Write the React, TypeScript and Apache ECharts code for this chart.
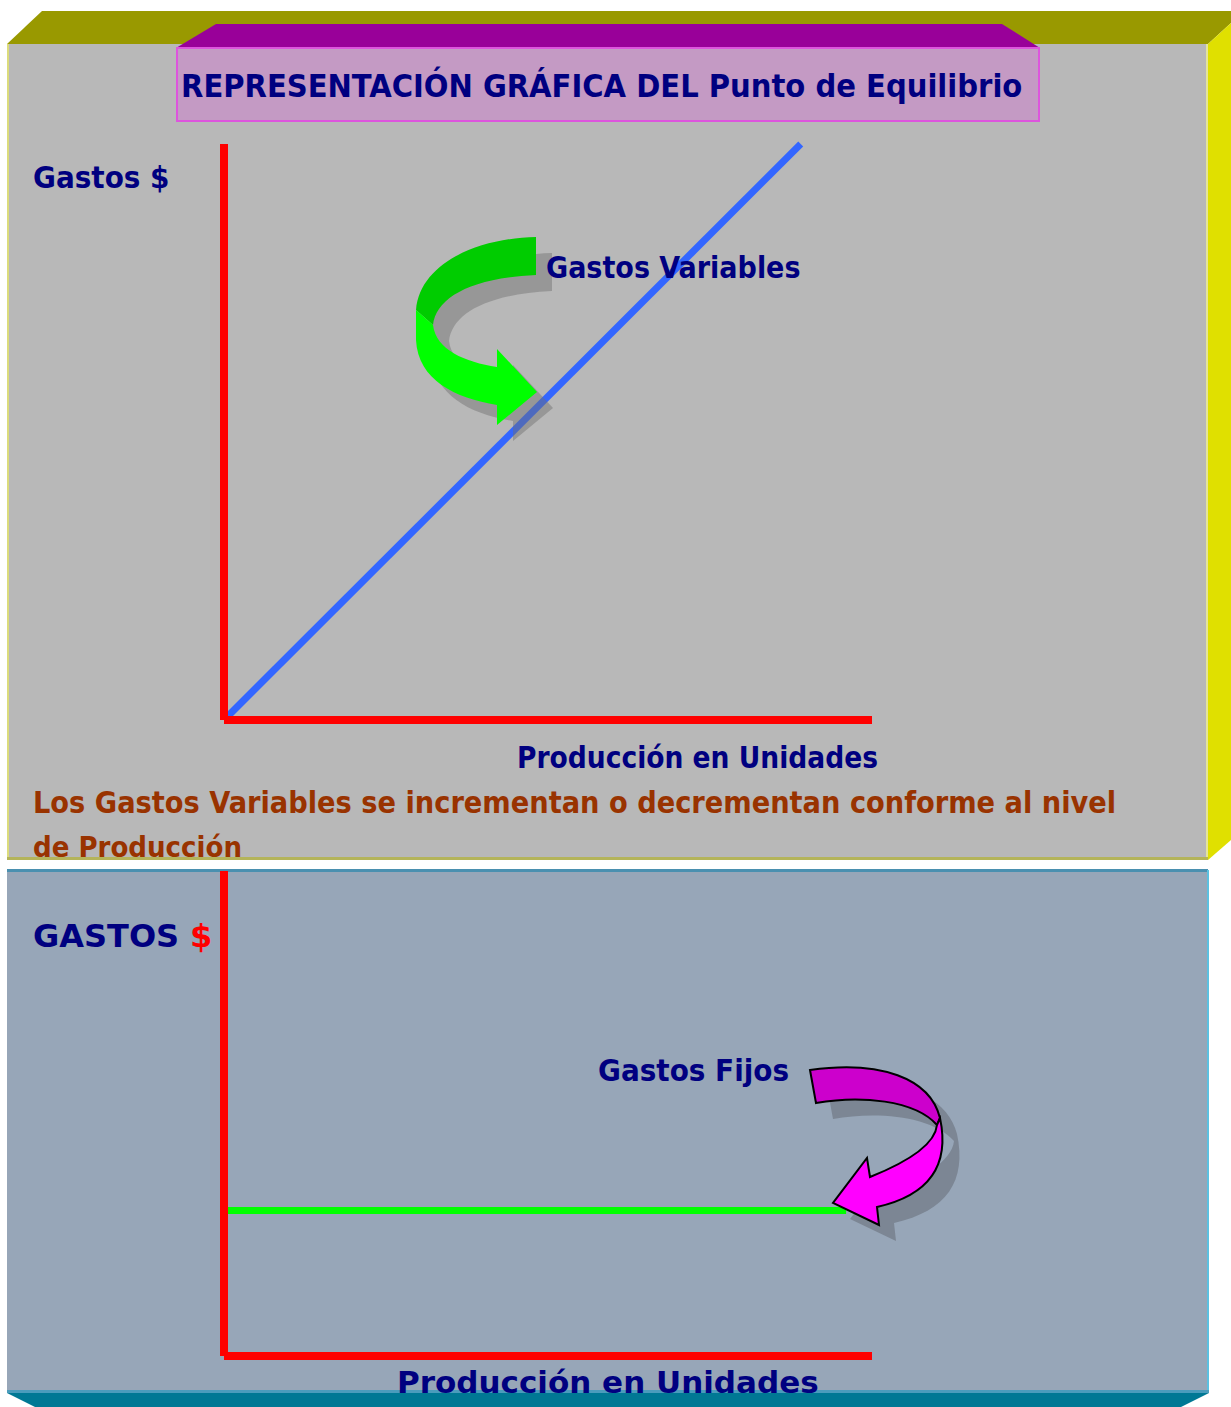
import React, { useEffect, useRef } from "react";
import * as echarts from "echarts";

// ---- Data ----
const prodVariable = [0, 89];
const gastosVariable = [0, 100];
const prodFijo = [0, 96];
const gastosFijo = [30, 30];

// ---- Texts ----
const titleText = "REPRESENTACIÓN GRÁFICA DEL Punto de Equilibrio";
const yName1 = "Gastos $";
const xName1 = "Producción en Unidades";
const seriesName1 = "Gastos Variables";
const note1 = "Los Gastos Variables se incrementan o decrementan conforme al nivel";
const note2 = "de Producción";
const yName2 = "GASTOS";
const yName2Sym = "$";
const seriesName2 = "Gastos Fijos";
const xName2 = "Producción en Unidades";

// ---- Shapes ----
const greenDark =
  "M536 237 C480 238 420 262 416 310 L433 325 C436 298 470 278 536 275 Z";
const greenBright =
  "M416 310 L416 340 C418 380 455 398 497 405 L497 425 L537 392 L497 349 L497 367 C465 362 436 350 433 325 Z";
const greenShadow =
  "M536 237 C480 238 420 262 416 310 L416 340 C418 380 455 398 497 405 L497 425 L537 392 L497 349 L497 367 C465 362 436 350 433 325 C436 298 470 278 536 275 Z";
const magDark =
  "M810 1070 C880 1060 930 1078 940 1118 L937 1125 C915 1100 860 1095 816 1103 Z";
const magBright =
  "M940 1118 C950 1165 930 1195 877 1207 L879 1225 L833 1203 L867 1158 L870 1177 C905 1163 935 1145 937 1125 Z";
const magShadow =
  "M810 1070 C880 1060 930 1078 940 1118 C950 1165 930 1195 877 1207 L879 1225 L833 1203 L867 1158 L870 1177 C905 1163 935 1145 937 1125 C915 1100 860 1095 816 1103 Z";

let registered = false;
function registerShapes() {
  if (registered) return;
  registered = true;
  const reg = (name: string, d: string) =>
    echarts.graphic.registerShape(name, echarts.graphic.extendPath(d, {}) as any);
  reg("greenDark", greenDark);
  reg("greenBright", greenBright);
  reg("greenShadow", greenShadow);
  reg("magDark", magDark);
  reg("magBright", magBright);
  reg("magShadow", magShadow);
}

const COMIC = '"DejaVu Sans Condensed", "DejaVu Sans", sans-serif';
const ARIALB = '"DejaVu Sans", "Liberation Sans", sans-serif';
const NAVY = "#000080";

function txt(text: string, x: number, y: number, size: number, color: string, family: string, z = 9) {
  return {
    type: "text",
    z,
    style: {
      text,
      x,
      y,
      fill: color,
      fontSize: size,
      fontWeight: "bold",
      fontFamily: family,
      align: "left",
      verticalAlign: "middle",
    },
  };
}

export default function App() {
  const ref = useRef<HTMLDivElement>(null);
  useEffect(() => {
    if (!ref.current) return;
    registerShapes();
    const chart = echarts.init(ref.current, null, { renderer: "svg" });
    const axisCommon = {
      type: "value",
      min: 0,
      max: 100,
      axisTick: { show: false },
      axisLabel: { show: false },
      splitLine: { show: false },
      z: 3,
    };
    const red = { color: "#ff0000", width: 8, cap: "butt" };
    chart.setOption({
      animation: false,
      backgroundColor: "#ffffff",
      grid: [
        { left: 224, right: 359, top: 144, bottom: 687 },
        { left: 224, right: 359, top: 871, bottom: 51 },
      ],
      xAxis: [
        { ...axisCommon, gridIndex: 0, axisLine: { show: true, onZero: false, lineStyle: red } },
        { ...axisCommon, gridIndex: 1, axisLine: { show: true, onZero: false, lineStyle: red } },
      ],
      yAxis: [
        { ...axisCommon, gridIndex: 0, axisLine: { show: true, onZero: false, lineStyle: red } },
        { ...axisCommon, gridIndex: 1, axisLine: { show: true, onZero: false, lineStyle: red } },
      ],
      series: [
        {
          name: seriesName1,
          type: "line",
          xAxisIndex: 0,
          yAxisIndex: 0,
          data: prodVariable.map((x, i) => [x, gastosVariable[i]]),
          showSymbol: false,
          clip: false,
          lineStyle: { color: "#3366ff", width: 7, cap: "butt" },
          z: 2,
          silent: true,
        },
        {
          name: seriesName2,
          type: "line",
          xAxisIndex: 1,
          yAxisIndex: 1,
          data: prodFijo.map((x, i) => [x, gastosFijo[i]]),
          showSymbol: false,
          clip: false,
          lineStyle: { color: "#00ff00", width: 7, cap: "butt" },
          z: 2,
          silent: true,
        },
      ],
      graphic: {
        elements: [
          // top panel
          { type: "rect", z: 0, silent: true, shape: { x: 7, y: 44, width: 1201, height: 816 }, style: { fill: "#b8b8b8" } },
          { type: "rect", z: 0, silent: true, shape: { x: 7, y: 44, width: 2, height: 816 }, style: { fill: "#dcdc7c" } },
          { type: "rect", z: 0, silent: true, shape: { x: 1206, y: 44, width: 2, height: 816 }, style: { fill: "#e4e49c" } },
          { type: "rect", z: 0, silent: true, shape: { x: 7, y: 857, width: 1201, height: 3 }, style: { fill: "#b4b45a" } },
          { type: "polygon", z: 0, silent: true, shape: { points: [[7, 44], [42, 11], [1231, 11], [1231, 23], [1208, 44]] }, style: { fill: "#999900" } },
          { type: "polygon", z: 0, silent: true, shape: { points: [[1208, 44], [1231, 23], [1231, 840], [1208, 860]] }, style: { fill: "#e0e000" } },
          // title box
          { type: "polygon", z: 1, silent: true, shape: { points: [[176, 48], [216, 24], [1002, 24], [1040, 48]] }, style: { fill: "#990099" } },
          { type: "rect", z: 1, silent: true, shape: { x: 177, y: 48, width: 862, height: 73 }, style: { fill: "#c49ac4", stroke: "#dd55dd", lineWidth: 2 } },
          // bottom panel
          { type: "rect", z: 0, silent: true, shape: { x: 7, y: 870, width: 1201, height: 523 }, style: { fill: "#97a6b8" } },
          { type: "rect", z: 0, silent: true, shape: { x: 7, y: 869, width: 1201, height: 3 }, style: { fill: "#4a90b0" } },
          { type: "rect", z: 0, silent: true, shape: { x: 1207, y: 870, width: 2, height: 523 }, style: { fill: "#5cc0e0" } },
          { type: "rect", z: 0, silent: true, shape: { x: 7, y: 1390, width: 1202, height: 3 }, style: { fill: "#4a9cbc" } },
          { type: "polygon", z: 0, silent: true, shape: { points: [[7, 1393], [1209, 1393], [1181, 1407], [35, 1407]] }, style: { fill: "#007894" } },
          // green arrow
          { type: "greenShadow", z: 7, silent: true, x: 16, y: 16, style: { fill: "rgba(110,110,110,0.45)" } },
          { type: "greenDark", z: 8, silent: true, x: 0, y: 0, style: { fill: "#00cc00" } },
          { type: "greenBright", z: 8, silent: true, x: 0, y: 0, style: { fill: "#00ff00" } },
          // magenta arrow
          { type: "magShadow", z: 7, silent: true, x: 17, y: 16, style: { fill: "rgba(90,95,105,0.45)" } },
          { type: "magDark", z: 8, silent: true, x: 0, y: 0, style: { fill: "#cc00cc", stroke: "#000000", lineWidth: 2, lineJoin: "miter" } },
          { type: "magBright", z: 8, silent: true, x: 0, y: 0, style: { fill: "#ff00ff", stroke: "#000000", lineWidth: 2, lineJoin: "miter" } },
          // texts
          txt(titleText, 181, 86, 32.3, NAVY, COMIC),
          txt(yName1, 33, 177, 31, NAVY, COMIC),
          txt(seriesName1, 546, 267, 30, NAVY, COMIC),
          txt(xName1, 517, 758, 29.5, NAVY, COMIC),
          txt(note1, 33, 802, 30.3, "#993300", COMIC),
          txt(note2, 33, 847, 29, "#993300", COMIC),
          txt(yName2, 33, 936, 32, NAVY, ARIALB),
          txt(yName2Sym, 190, 936, 32, "#ff0000", ARIALB),
          txt(seriesName2, 598, 1070, 31, NAVY, COMIC),
          txt(xName2, 397, 1382, 31, NAVY, ARIALB),
        ],
      },
    });
    return () => chart.dispose();
  }, []);
  return (
    <div
      ref={ref}
      style={{ position: "absolute", left: 0, top: 0, width: 1231, height: 1407 }}
    />
  );
}
